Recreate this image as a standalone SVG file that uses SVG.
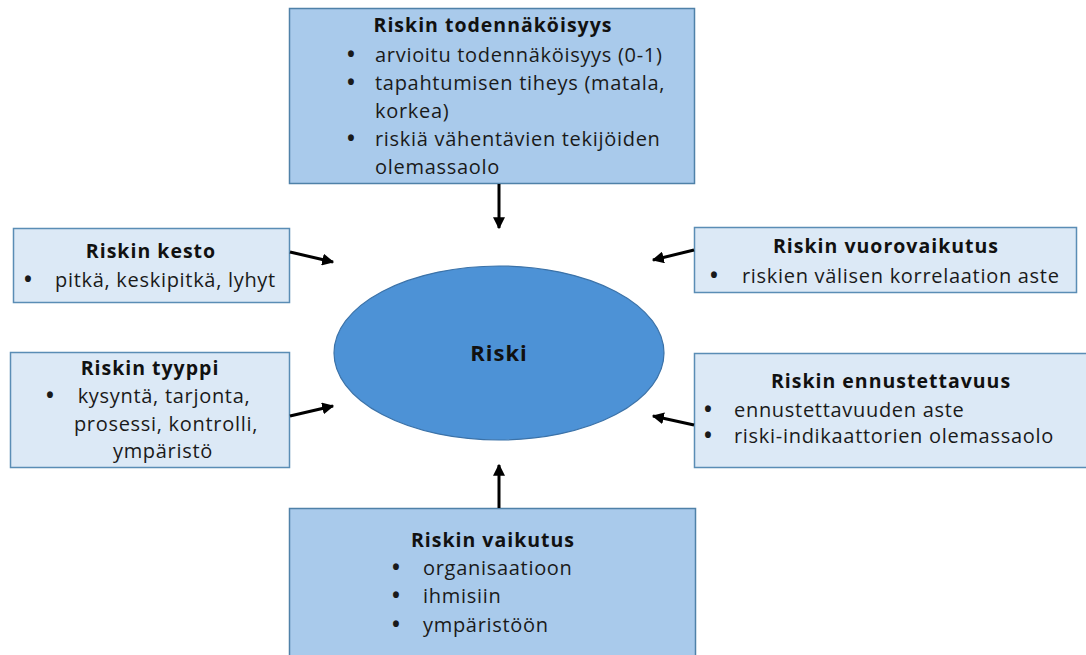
<svg xmlns="http://www.w3.org/2000/svg" width="1086" height="655" viewBox="0 0 1086 655">
<style>
.dark{fill:#a9caeb;stroke:#4f81a8;stroke-width:1.5}
.light{fill:#dce9f6;stroke:#5a8db5;stroke-width:1.5}
text{font-family:"Open Sans","Noto Sans",sans-serif;font-size:20px;letter-spacing:0.7px;fill:#1a1a1a}
.t{font-weight:bold;text-anchor:middle;fill:#111;font-size:19.5px;letter-spacing:1px}
.b{font-weight:bold;font-size:21px}
.c{text-anchor:middle}
.con line{stroke:#000;stroke-width:3}
</style>
<defs>
<marker id="ah" viewBox="0 0 10 10" refX="9" refY="5" markerWidth="4" markerHeight="4" orient="auto" markerUnits="strokeWidth">
<path d="M0,0 L10,5 L0,10 z" fill="#000"/>
</marker>
</defs>
<rect width="1086" height="655" fill="#fff"/>
<g id="top">
<rect class="dark" x="289.5" y="8.5" width="405" height="175"/>
<text class="t" x="493" y="32">Riskin todennäköisyys</text>
<text class="b" x="347" y="62">•</text><text x="375" y="62">arvioitu todennäköisyys (0-1)</text>
<text class="b" x="347" y="90">•</text><text x="375" y="90">tapahtumisen tiheys (matala,</text>
<text x="375" y="118">korkea)</text>
<text class="b" x="347" y="146">•</text><text x="375" y="146">riskiä vähentävien tekijöiden</text>
<text x="375" y="174">olemassaolo</text>
</g>
<g id="kesto">
<rect class="light" x="13.5" y="228.5" width="276" height="74"/>
<text class="t" x="151" y="258">Riskin kesto</text>
<text class="b" x="24" y="287">•</text><text x="55" y="287">pitkä, keskipitkä, lyhyt</text>
</g>
<g id="tyyppi">
<rect class="light" x="10.5" y="352.5" width="279" height="115"/>
<text class="t" x="150" y="375">Riskin tyyppi</text>
<text class="b" x="46" y="403">•</text><text class="c" x="164" y="403">kysyntä, tarjonta,</text>
<text class="c" x="166" y="431">prosessi, kontrolli,</text>
<text class="c" x="163" y="458">ympäristö</text>
</g>
<g id="vuorovaikutus">
<rect class="light" x="694.5" y="227.5" width="382" height="65"/>
<text class="t" x="886" y="253">Riskin vuorovaikutus</text>
<text class="b" x="710" y="283">•</text><text x="742" y="283">riskien välisen korrelaation aste</text>
</g>
<g id="ennustettavuus">
<rect class="light" x="694.5" y="353.5" width="400" height="114"/>
<text class="t" x="891" y="388">Riskin ennustettavuus</text>
<text class="b" x="704" y="417">•</text><text x="734" y="417">ennustettavuuden aste</text>
<text class="b" x="704" y="443">•</text><text x="734" y="443">riski-indikaattorien olemassaolo</text>
</g>
<g id="vaikutus">
<rect class="dark" x="289.5" y="508.5" width="406" height="160"/>
<text class="t" x="493" y="547">Riskin vaikutus</text>
<text class="b" x="392" y="575">•</text><text x="423" y="575">organisaatioon</text>
<text class="b" x="392" y="603">•</text><text x="423" y="603">ihmisiin</text>
<text class="b" x="392" y="632">•</text><text x="423" y="632">ympäristöön</text>
</g>
<g id="riski">
<ellipse cx="499" cy="353" rx="165" ry="87" fill="#4d92d6" stroke="#3b72a8" stroke-width="1.2"/>
<text class="t" x="499" y="361" style="font-size:22px">Riski</text>
</g>
<g class="con">
<line x1="499" y1="184" x2="499" y2="228" marker-end="url(#ah)"/>
<line x1="290" y1="252" x2="333" y2="262" marker-end="url(#ah)"/>
<line x1="290" y1="416" x2="333" y2="406" marker-end="url(#ah)"/>
<line x1="694" y1="250" x2="653" y2="260" marker-end="url(#ah)"/>
<line x1="694" y1="425" x2="653" y2="416" marker-end="url(#ah)"/>
<line x1="499" y1="508" x2="499" y2="465" marker-end="url(#ah)"/>
</g>
</svg>
